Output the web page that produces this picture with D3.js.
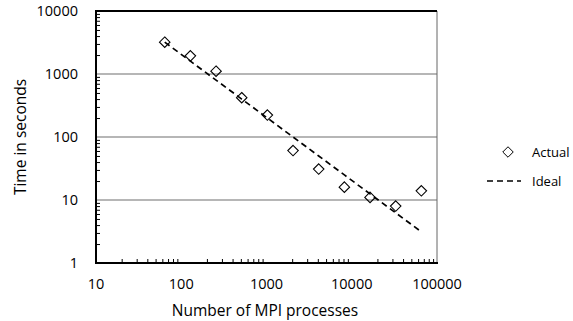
<!DOCTYPE html>
<html>
<head>
<meta charset="utf-8">
<script src="https://cdn.jsdelivr.net/npm/d3@7"></script>
<style>
  body { margin: 0; background: #fff; }
  text { font-family: "Open Sans", "Liberation Sans", sans-serif; fill: #000; }
</style>
</head>
<body>
<svg width="573" height="321"></svg>
<script>
// measured run times
const procs = [64, 128, 256, 512, 1024, 2048, 4096, 8192, 16384, 32768, 65536];
const actual = [3200, 1940, 1110, 420, 223, 61, 31, 16, 11, 8, 14];
const ideal = [3200, 1600, 800, 400, 200, 100, 50, 25, 12.5, 6.25, 3.125];
const xTicks = [10, 100, 1000, 10000, 100000];
const yTicks = [1, 10, 100, 1000, 10000];

const svg = d3.select('svg');
const plotL = 96, plotR = 437, plotT = 11, plotB = 263;

const x = d3.scaleLog().domain([10, 100000]).range([plotL, plotR]);
const y = d3.scaleLog().domain([1, 10000]).range([plotB, plotT]);

// gridlines
svg.append('g')
  .selectAll('line')
  .data(yTicks.slice(1, -1))
  .enter().append('line')
  .attr('x1', plotL).attr('x2', plotR)
  .attr('y1', d => y(d)).attr('y2', d => y(d))
  .attr('stroke', '#6e6e6e').attr('stroke-width', 1.2);

// frame: thin right, thick top
svg.append('line')
  .attr('x1', plotR).attr('x2', plotR).attr('y1', plotT).attr('y2', plotB)
  .attr('stroke', '#666').attr('stroke-width', 1);
svg.append('line')
  .attr('x1', plotL).attr('x2', plotR).attr('y1', plotT).attr('y2', plotT)
  .attr('stroke', '#000').attr('stroke-width', 2);

// minor ticks, pointing inward
const minorX = [];
const minorY = [];
for (let e = 1; e < 5; e++) {
  for (let m = 2; m <= 9; m++) minorX.push(m * Math.pow(10, e));
}
for (let e = 0; e < 4; e++) {
  for (let m = 2; m <= 9; m++) minorY.push(m * Math.pow(10, e));
}

const xAxis = d3.axisBottom(x).tickValues(minorX).tickSize(-4).tickFormat('');
const gx = svg.append('g').attr('transform', `translate(0,${plotB})`).call(xAxis);
gx.select('.domain').remove();
gx.selectAll('line').attr('stroke', '#000');

const yAxis = d3.axisLeft(y).tickValues(minorY).tickSize(-4).tickFormat('');
const gy = svg.append('g').attr('transform', `translate(${plotL},0)`).call(yAxis);
gy.select('.domain').remove();
gy.selectAll('line').attr('stroke', '#000');

// axis lines
svg.append('line')
  .attr('x1', plotL).attr('x2', plotL).attr('y1', plotT - 1).attr('y2', plotB + 1)
  .attr('stroke', '#000').attr('stroke-width', 2);
svg.append('line')
  .attr('x1', plotL - 1).attr('x2', plotR + 1).attr('y1', plotB).attr('y2', plotB)
  .attr('stroke', '#000').attr('stroke-width', 2);

// tick labels
svg.append('g')
  .selectAll('text')
  .data(yTicks)
  .enter().append('text')
  .attr('x', plotL - 18)
  .attr('y', d => y(d))
  .attr('dy', '0.36em')
  .attr('text-anchor', 'end')
  .attr('font-size', 14.5)
  .text(d => d);

svg.append('g')
  .selectAll('text')
  .data(xTicks)
  .enter().append('text')
  .attr('x', d => x(d))
  .attr('y', 289)
  .attr('text-anchor', 'middle')
  .attr('font-size', 14.5)
  .text(d => d);

// axis titles
svg.append('text')
  .attr('transform', `translate(26,137) rotate(-90)`)
  .attr('text-anchor', 'middle')
  .attr('font-size', 15.5)
  .text('Time in seconds');

svg.append('text')
  .attr('x', 265)
  .attr('y', 316)
  .attr('text-anchor', 'middle')
  .attr('font-size', 15.5)
  .text('Number of MPI processes');

// ideal line
const line = d3.line()
  .x((d, i) => x(procs[i]))
  .y(d => y(d));

svg.append('path')
  .datum(ideal)
  .attr('d', line)
  .attr('fill', 'none')
  .attr('stroke', '#000')
  .attr('stroke-width', 1.7)
  .attr('stroke-dasharray', '6,4');

// actual points
const diamond = d3.symbol().type(d3.symbolDiamond2).size(70);
svg.append('g')
  .selectAll('path')
  .data(actual)
  .enter().append('path')
  .attr('d', diamond)
  .attr('transform', (d, i) => `translate(${x(procs[i])},${y(d)})`)
  .attr('fill', 'none')
  .attr('stroke', '#000')
  .attr('stroke-width', 1.1);

// legend
const legend = svg.append('g');
legend.append('path')
  .attr('d', diamond)
  .attr('transform', 'translate(508,152)')
  .attr('fill', 'none')
  .attr('stroke', '#000');
legend.append('text')
  .attr('x', 532).attr('y', 152).attr('dy', '0.36em')
  .attr('font-size', 13)
  .text('Actual');
legend.append('line')
  .attr('x1', 487).attr('x2', 521).attr('y1', 181).attr('y2', 181)
  .attr('stroke', '#000').attr('stroke-width', 1.7)
  .attr('stroke-dasharray', '6,4');
legend.append('text')
  .attr('x', 532).attr('y', 181).attr('dy', '0.36em')
  .attr('font-size', 13)
  .text('Ideal');
</script>
</body>
</html>
